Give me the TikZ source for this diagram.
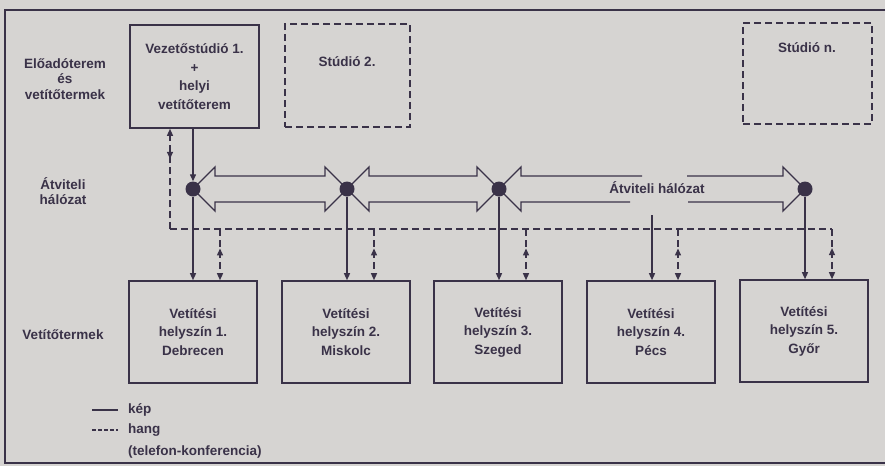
\documentclass[tikz,border=0pt]{standalone}
\usepackage{fontspec}
\setmainfont{Liberation Sans}
\usetikzlibrary{arrows.meta,calc,decorations.markings}
\definecolor{paper}{RGB}{214,212,210}
\definecolor{ink}{RGB}{58,50,72}
\newcommand\dblarr[2]{%
  \draw[vid] (#1.center) -- ($(#1.center)+(22,-22)$) -- ($(#1.center)+(22,-13)$)
    -- ($(#2.center)+(-22,-13)$) -- ($(#2.center)+(-22,-22)$) -- (#2.center)
    -- ($(#2.center)+(-22,22)$) -- ($(#2.center)+(-22,13)$)
    -- ($(#1.center)+(22,13)$) -- ($(#1.center)+(22,22)$) -- cycle;}
\begin{document}
\begin{tikzpicture}[x=1pt,y=-1pt,
  every node/.style={font=\fontsize{13.5}{18.5}\selectfont\bfseries, text=ink, inner sep=1pt},
  box/.style={draw=ink, line width=1.6pt, minimum width=128pt, minimum height=102pt, align=center},
  dbox/.style={box, dash pattern=on 7pt off 4pt},
  vid/.style={draw=ink, line width=1.3pt, line join=miter},
  aud/.style={draw=ink, line width=1.3pt, dash pattern=on 7pt off 4pt},
  tipend/.style={-{Triangle[length=7pt,width=6pt]}},
  midrev/.style={postaction={decorate}, decoration={markings,
     mark=at position #1 with {\arrowreversed[ink]{Triangle[length=7pt,width=6pt]}}}},
  dot/.style={circle, fill=ink, minimum size=15pt, inner sep=0pt},
  lab/.style={align=center, font=\fontsize{13.5}{15.5}\selectfont\bfseries}
]
\fill[paper] (0,0) rectangle (885,466);
\useasboundingbox (0,0) rectangle (885,466);
\draw[ink, line width=1.8pt] (885,10) -- (5,10) -- (5,463) -- (885,463);

% left labels
\node[lab] (lab1) at (65,79) {Előadóterem\\és\\vetítőtermek};
\node[lab] (lab2) at (63,191) {Átviteli\\hálózat};
\node[lab] (lab3) at (63,335) {Vetítőtermek};

% studios
\node[box, minimum width=129pt, minimum height=103pt] (vez) at (194.5,76.5)
  {Vezetőstúdió 1.\\+\\helyi\\vetítőterem};
\node[dbox, minimum width=125pt, minimum height=103pt] (st2) at (347.5,75.5) {};
\node (st2t) at (347,62) {Stúdió 2.};
\node[dbox, minimum width=129pt, minimum height=101pt] (stn) at (807.5,73.5) {};
\node (stnt) at (807,48) {Stúdió n.};

% projection sites
\node[box] (h1) at (193,332) {Vetítési\\helyszín 1.\\Debrecen};
\node[box] (h2) at (346,332) {Vetítési\\helyszín 2.\\Miskolc};
\node[box] (h3) at (498,332) {Vetítési\\helyszín 3.\\Szeged};
\node[box] (h4) at (651,332) {Vetítési\\helyszín 4.\\Pécs};
\node[box] (h5) at (804,331) {Vetítési\\helyszín 5.\\Győr};

% network nodes
\coordinate (d1) at (193,189);
\coordinate (d2) at (347,189);
\coordinate (d3) at (499,189);
\coordinate (d5) at (805,189);

% hollow double arrows
\dblarr{d1}{d2}
\dblarr{d2}{d3}
\draw[vid] (642,176) -- ($(d3)+(22,-13)$) -- ($(d3)+(22,-22)$) -- (d3)
  -- ($(d3)+(22,22)$) -- ($(d3)+(22,13)$) -- (630,202);
\draw[vid] (687,176) -- ($(d5)+(-22,-13)$) -- ($(d5)+(-22,-22)$) -- (d5)
  -- ($(d5)+(-22,22)$) -- ($(d5)+(-22,13)$) -- (688,202);
\node (net) at (657,188) {Átviteli hálózat};

\node[dot] (n1) at (d1) {};
\node[dot] (n2) at (d2) {};
\node[dot] (n3) at (d3) {};
\node[dot] (n5) at (d5) {};

% video lines
\draw[vid, tipend] (vez.south -| n1) -- (n1.north);
\draw[vid, tipend] (n1) -- (n1 |- h1.north);
\draw[vid, tipend] (n2) -- (n2 |- h2.north);
\draw[vid, tipend] (n3) -- (n3 |- h3.north);
\coordinate (c4) at (652,215);
\draw[vid, tipend] (c4) -- (c4 |- h4.north);
\draw[vid, tipend] (n5) -- (n5 |- h5.north);

% audio (telephone conference) bus
\coordinate (bl) at (170,229);
\coordinate (br) at (832,229);
\draw[aud] (bl) -- (br);
\draw[aud, tipend, midrev=0.70] (bl) -- (vez.south -| bl);
\coordinate (a1) at (220,229);
\coordinate (a2) at (374,229);
\coordinate (a3) at (526,229);
\coordinate (a4) at (678,229);
\draw[aud, tipend, midrev=0.38] (a1) -- (a1 |- h1.north);
\draw[aud, tipend, midrev=0.38] (a2) -- (a2 |- h2.north);
\draw[aud, tipend, midrev=0.38] (a3) -- (a3 |- h3.north);
\draw[aud, tipend, midrev=0.38] (a4) -- (a4 |- h4.north);
\draw[aud, tipend, midrev=0.38] (br) -- (br |- h5.north);

% legend
\coordinate (k1) at (92,410);
\coordinate (k2) at (118,410);
\coordinate (g1) at (92,430);
\coordinate (g2) at (118,430);
\draw[vid] (k1) -- (k2);
\draw[aud, dash pattern=on 4pt off 2pt] (g1) -- (g2);
\node[anchor=west] (lk) at (127,410) {kép};
\node[anchor=west] (lh) at (127,430) {hang};
\node[anchor=west] (lt) at (127,452) {(telefon-konferencia)};
\end{tikzpicture}
\end{document}
